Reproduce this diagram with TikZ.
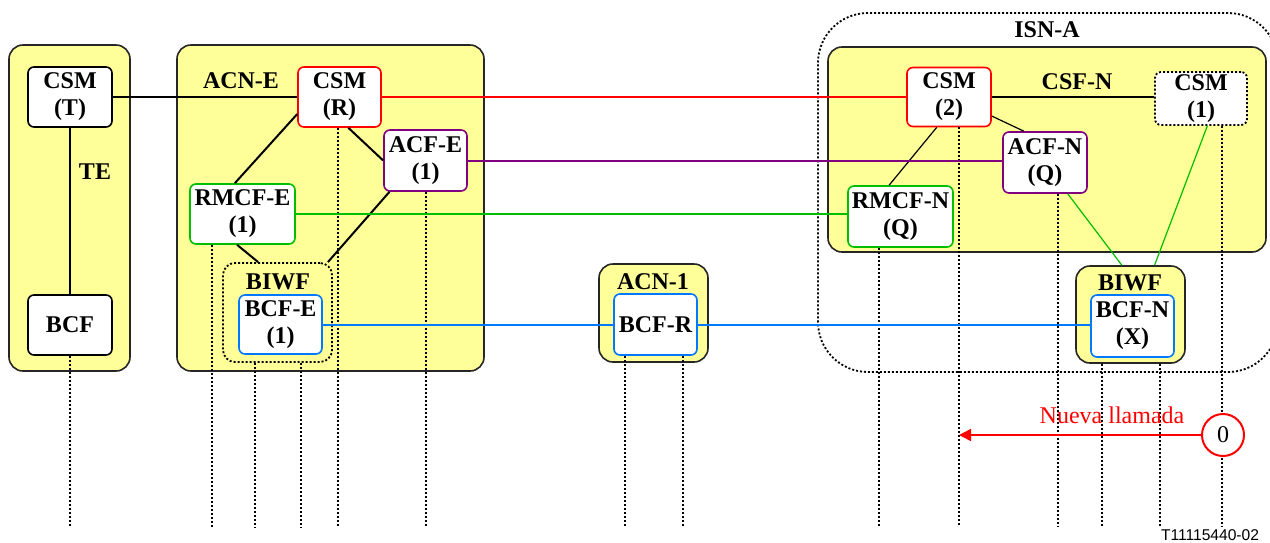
\documentclass[tikz,border=0pt]{standalone}
\usepackage{fontspec}
\setmainfont{Liberation Serif}
\newfontfamily\tagfont{Liberation Sans}
\usetikzlibrary{calc,arrows.meta}
\definecolor{areaY}{RGB}{255,255,153}
\definecolor{lnRed}{RGB}{255,0,0}
\definecolor{lnPurple}{RGB}{128,0,128}
\definecolor{lnGreen}{RGB}{0,190,0}
\definecolor{lnBlue}{RGB}{0,120,255}

\begin{document}
\begin{tikzpicture}[x=0.5pt,y=-0.5pt,
	area/.style={draw=black!85, fill=areaY, line width=0.8pt, rounded corners=7pt, inner sep=0pt},
	fn/.style={draw, fill=white, line width=0.8pt, rounded corners=3pt, align=center, inner sep=0pt, font=\bfseries\fontsize{12}{13.5}\selectfont},
	lbl/.style={inner sep=0pt, font=\bfseries\fontsize{12}{13.5}\selectfont},
	life/.style={line width=0.9pt, dash pattern=on 1pt off 1pt},
	link/.style={line width=1pt},
	thinlink/.style={line width=0.6pt}]
	\useasboundingbox (0,0) rectangle (1270,542);
	
	%areas
	\node[area, minimum width=60.5pt, minimum height=163pt] (te) at (69.5,208) {};
	\node[area, minimum width=153.5pt, minimum height=163pt] (acnE) at (330.5,208) {};
	\node[draw, line width=0.9pt, dash pattern=on 1pt off 1pt, rounded corners=25pt, minimum width=230pt, minimum height=179.5pt] (isnA) at (1048,192.5) {};
	\node[area, minimum width=219pt, minimum height=102.5pt] (csfN) at (1047,149.5) {};
	\node[area, minimum width=54.5pt, minimum height=49pt] (acn1) at (653.5,313) {};
	\node[area, minimum width=54.5pt, minimum height=48.5pt] (biwfN) at (1130.5,314.5) {};
	\node[draw, line width=0.9pt, dash pattern=on 1pt off 1pt, rounded corners=6pt, minimum width=54.5pt, minimum height=49.5pt] (biwfE) at (277.5,312.5) {};
	
	%labels
	\node[lbl] (teL) at (95,172) {TE};
	\node[lbl] (acnEL) at (241,81) {ACN-E};
	\node[lbl] (biwfEL) at (278,282) {BIWF};
	\node[lbl] (acn1L) at (653,282) {ACN-1};
	\node[lbl] (isnAL) at (1047,30) {ISN-A};
	\node[lbl] (csfNL) at (1077,82) {CSF-N};
	\node[lbl] (biwfNL) at (1130,283) {BIWF};
	
	%functions
	\node[fn, minimum width=42pt, minimum height=30pt] (csmT) at (70,97) {CSM\\(T)};
	\node[fn, minimum width=42pt, minimum height=30pt] (bcfT) at (70,325) {BCF};
	\node[fn, draw=lnRed, minimum width=41.5pt, minimum height=30pt] (csmR) at (339.5,97) {CSM\\(R)};
	\node[fn, draw=lnPurple, minimum width=41.5pt, minimum height=30.5pt] (acfE) at (425.5,160.5) {ACF-E\\(1)};
	\node[fn, draw=lnGreen, minimum width=52.5pt, minimum height=30pt] (rmcfE) at (242.5,214) {RMCF-E\\(1)};
	\node[fn, draw=lnBlue, minimum width=41.5pt, minimum height=29.5pt] (bcfE) at (280.5,324.5) {BCF-E\\(1)};
	\node[fn, draw=lnBlue, minimum width=41.5pt, minimum height=30.5pt] (bcfR) at (655.5,324.5) {BCF-R};
	\node[fn, draw=lnRed, minimum width=42pt, minimum height=29.5pt] (csm2) at (949,97) {CSM\\(2)};
	\node[fn, line width=0.9pt, dash pattern=on 1pt off 1pt, minimum width=46pt, minimum height=26.5pt] (csm1) at (1201,98.5) {CSM\\(1)};
	\node[fn, draw=lnPurple, minimum width=42pt, minimum height=30.5pt] (acfN) at (1045,162.5) {ACF-N\\(Q)};
	\node[fn, draw=lnGreen, minimum width=52.5pt, minimum height=30.5pt] (rmcfN) at (900.5,216.5) {RMCF-N\\(Q)};
	\node[fn, draw=lnBlue, minimum width=41.5pt, minimum height=31pt] (bcfN) at (1132.5,326) {BCF-N\\(X)};
	
	%lifelines
	\coordinate (bot) at (0,527);
	\foreach \n/\d in {bcfT/0, rmcfE/-30.5, biwfE/-22.5, biwfE/23.5, csmR/-1.5, acfE/0.5, bcfR/-30.5, bcfR/27.5, rmcfN/-21.5, csm2/10, acfN/13, biwfN/-28.5, biwfN/29.5, csm1/21} {
		\coordinate (top) at ($(\n.south)+(\d,0)$);
		\draw[life] (top) -- (top |- bot);
	}
	
	%links
	\draw[link] (csmT) -- (bcfT);
	\draw[link] (csmT) -- (csmR);
	\draw[link] (csmR.-74) -- (acfE.west);
	\draw[link] (csmR.202) -- (rmcfE.104);
	\draw[link] (rmcfE.260) -- (biwfE.111);
	\draw[link] (acfE.221) -- (biwfE.45);
	\draw[link] (csm2.east) -- (csm2.east -| csm1.west);
	\draw[thinlink] (csm2.-24) -- (acfN.124);
	\draw[thinlink] (csm2.248) -- (rmcfN.110);
	\draw[thinlink, lnGreen] (acfN.-54) -- (biwfN.100);
	\draw[thinlink, lnGreen] (csm1.-77) -- (biwfN.64);
	\draw[link, lnRed] (csmR) -- (csm2);
	\draw[link, lnPurple] (acfE.east) -- (acfE.east -| acfN.west);
	\draw[link, lnGreen] (rmcfE.east) -- (rmcfE.east -| rmcfN.west);
	\draw[link, lnBlue] (bcfE) -- (bcfR);
	\draw[link, lnBlue] (bcfR.east) -- (bcfR.east -| bcfN.west);
	
	%new call
	\node[circle, draw=lnRed, line width=1pt, fill=white, minimum size=21pt, inner sep=0pt, font=\fontsize{12}{14}\selectfont] (zero) at (1223,435) {0};
	\coordinate (nc) at (959,435);
	\draw[lnRed, line width=0.8pt, -{Triangle[length=6pt,width=6pt]}] (zero) -- (nc);
	\node[inner sep=0pt, text=lnRed, font=\fontsize{12}{14}\selectfont] (ncL) at (1112,415) {Nueva llamada};
	
	\node[anchor=south, inner sep=0.5pt, font=\tagfont\fontsize{7.8}{9}\selectfont] (tag) at (1210,542) {T11115440-02};
\end{tikzpicture}
\end{document}
